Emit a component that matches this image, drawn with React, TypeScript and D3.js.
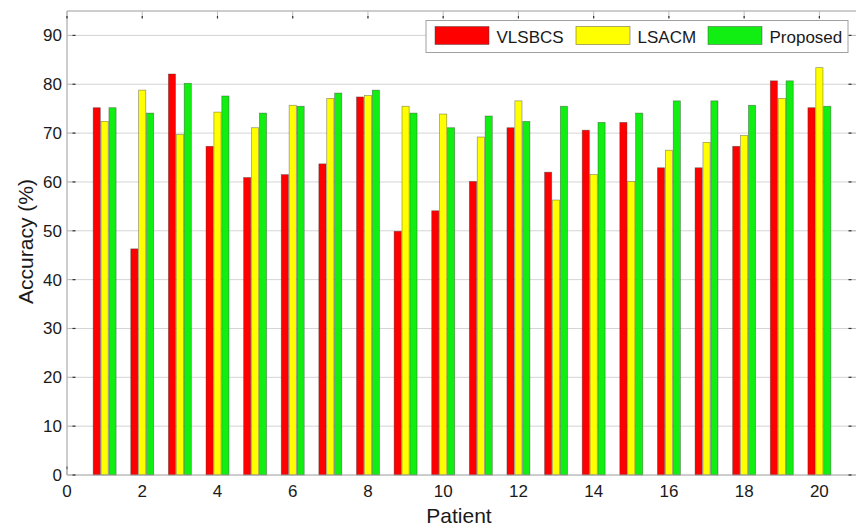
import React from "react";
import * as d3 from "d3";

// Per-patient segmentation accuracy (%) for each method
const patients = [1, 2, 3, 4, 5, 6, 7, 8, 9, 10, 11, 12, 13, 14, 15, 16, 17, 18, 19, 20];
const vlsbcs = [75.2, 46.3, 82.1, 67.3, 60.9, 61.5, 63.7, 77.4, 49.9, 54.1, 60.1, 71.1, 62.0, 70.6, 72.2, 62.9, 62.9, 67.3, 80.7, 75.2];
const lsacm = [72.4, 78.8, 69.7, 74.3, 71.1, 75.7, 77.1, 77.7, 75.5, 73.9, 69.2, 76.6, 56.3, 61.5, 60.1, 66.5, 68.1, 69.5, 77.1, 83.4];
const proposed = [75.2, 74.1, 80.2, 77.6, 74.1, 75.5, 78.2, 78.8, 74.1, 71.1, 73.5, 72.4, 75.5, 72.2, 74.1, 76.6, 76.6, 75.7, 80.7, 75.5];

const seriesNames = ["VLSBCS", "LSACM", "Proposed"];
const seriesColors = ["#ff0000", "#ffff00", "#11ee11"];
const seriesValues = [vlsbcs, lsacm, proposed];

const xTicks = [0, 2, 4, 6, 8, 10, 12, 14, 16, 18, 20];
const yTicks = [0, 10, 20, 30, 40, 50, 60, 70, 80, 90];

const W = 856;
const H = 527;
const left = 67;
const right = 857;
const top = 11;
const bottom = 475;

const x = d3.scaleLinear().domain([0, 21]).range([left, right]);
const y = d3.scaleLinear().domain([0, 95]).range([bottom, top]);

const barW = 0.19; // in patient units
const barStep = 0.21;

const font = "Liberation Sans, Arial, Helvetica, sans-serif";
const axisColor = "#9a9a9a";
const gridColor = "#d4d4d4";
const tickDark = "#333";

export default function App() {
  return (
    <div style={{ position: "fixed", left: 0, top: 0, width: W, height: H, background: "#fff" }}>
      <svg width={W} height={H} style={{ display: "block" }} fontFamily={font}>
        <rect x={0} y={0} width={W} height={H} fill="#fff" />

        {/* horizontal grid */}
        {yTicks.filter((t) => t > 0).map((t) => (
          <line key={"g" + t} x1={left} x2={right} y1={y(t)} y2={y(t)} stroke={gridColor} strokeWidth={1} />
        ))}

        {/* bottom x ticks (pointing up) */}
        {xTicks.map((t) => (
          <g key={"bx" + t}>
            <line x1={x(t)} x2={x(t)} y1={bottom} y2={bottom - 8} stroke="#bbb" strokeWidth={1} />
            <line x1={x(t)} x2={x(t)} y1={bottom - 6} y2={bottom - 8.5} stroke={tickDark} strokeWidth={1.2} />
          </g>
        ))}

        {/* bars */}
        {seriesValues.map((vals, si) =>
          vals.map((v, i) => {
            const cx = patients[i] + (si - 1) * barStep;
            const x0 = x(cx - barW / 2);
            const x1 = x(cx + barW / 2);
            return (
              <rect
                key={si + "-" + i}
                x={x0}
                y={y(v)}
                width={x1 - x0}
                height={y(0) - y(v)}
                fill={seriesColors[si]}
                stroke="rgba(60,60,60,0.55)"
                strokeWidth={0.7}
              />
            );
          })
        )}

        {/* axes box */}
        <line x1={left} x2={left} y1={top} y2={bottom} stroke={axisColor} strokeWidth={1} />
        <line x1={left} x2={right} y1={bottom} y2={bottom} stroke={axisColor} strokeWidth={1} />
        <line x1={left} x2={right} y1={top} y2={top} stroke={axisColor} strokeWidth={1} />
        <line x1={right - 0.5} x2={right - 0.5} y1={top} y2={bottom} stroke={axisColor} strokeWidth={1} />

        {/* top x ticks (pointing down) */}
        {xTicks.map((t) => (
          <g key={"tx" + t}>
            <line x1={x(t)} x2={x(t)} y1={top} y2={top + 7} stroke="#bbb" strokeWidth={1} />
            <line x1={x(t)} x2={x(t)} y1={top + 5} y2={top + 7.5} stroke={tickDark} strokeWidth={1.2} />
          </g>
        ))}

        {/* left and right y ticks */}
        {yTicks.map((t) => (
          <g key={"yt" + t}>
            <line x1={left} x2={left + 8} y1={y(t)} y2={y(t)} stroke="#bbb" strokeWidth={1} />
            <line x1={left + 5.5} x2={left + 8.5} y1={y(t)} y2={y(t)} stroke={tickDark} strokeWidth={1.2} />
            <line x1={right} x2={right - 8} y1={y(t)} y2={y(t)} stroke="#bbb" strokeWidth={1} />
            <line x1={right - 5.5} x2={right - 8.5} y1={y(t)} y2={y(t)} stroke={tickDark} strokeWidth={1.2} />
          </g>
        ))}

        {/* y tick labels */}
        {yTicks.map((t) => (
          <text key={"yl" + t} x={left - 5} y={y(t) + 6} fontSize={17} textAnchor="end" fill="#1a1a1a">
            {t}
          </text>
        ))}

        {/* x tick labels */}
        {xTicks.map((t) => (
          <text key={"xl" + t} x={x(t)} y={497} fontSize={17} textAnchor="middle" fill="#1a1a1a">
            {t}
          </text>
        ))}

        {/* axis titles */}
        <text x={459} y={523} fontSize={21} textAnchor="middle" fill="#1a1a1a">
          Patient
        </text>
        <text
          transform={`translate(33, 241.5) rotate(-90)`}
          fontSize={21}
          textAnchor="middle"
          fill="#1a1a1a"
        >
          Accuracy (%)
        </text>

        {/* legend */}
        <g>
          <rect x={426} y={20.5} width={422} height={32} fill="#fff" stroke="#a0a0a0" strokeWidth={1} />
          {seriesNames.map((name, i) => {
            const sx = [435, 576, 708][i];
            return (
              <g key={name}>
                <rect x={sx} y={26.5} width={54} height={18} fill={seriesColors[i]} stroke="rgba(60,60,60,0.55)" strokeWidth={0.8} />
                <text x={sx + 61.5} y={43.3} fontSize={17} fill="#1a1a1a">
                  {name}
                </text>
              </g>
            );
          })}
        </g>
      </svg>
    </div>
  );
}
